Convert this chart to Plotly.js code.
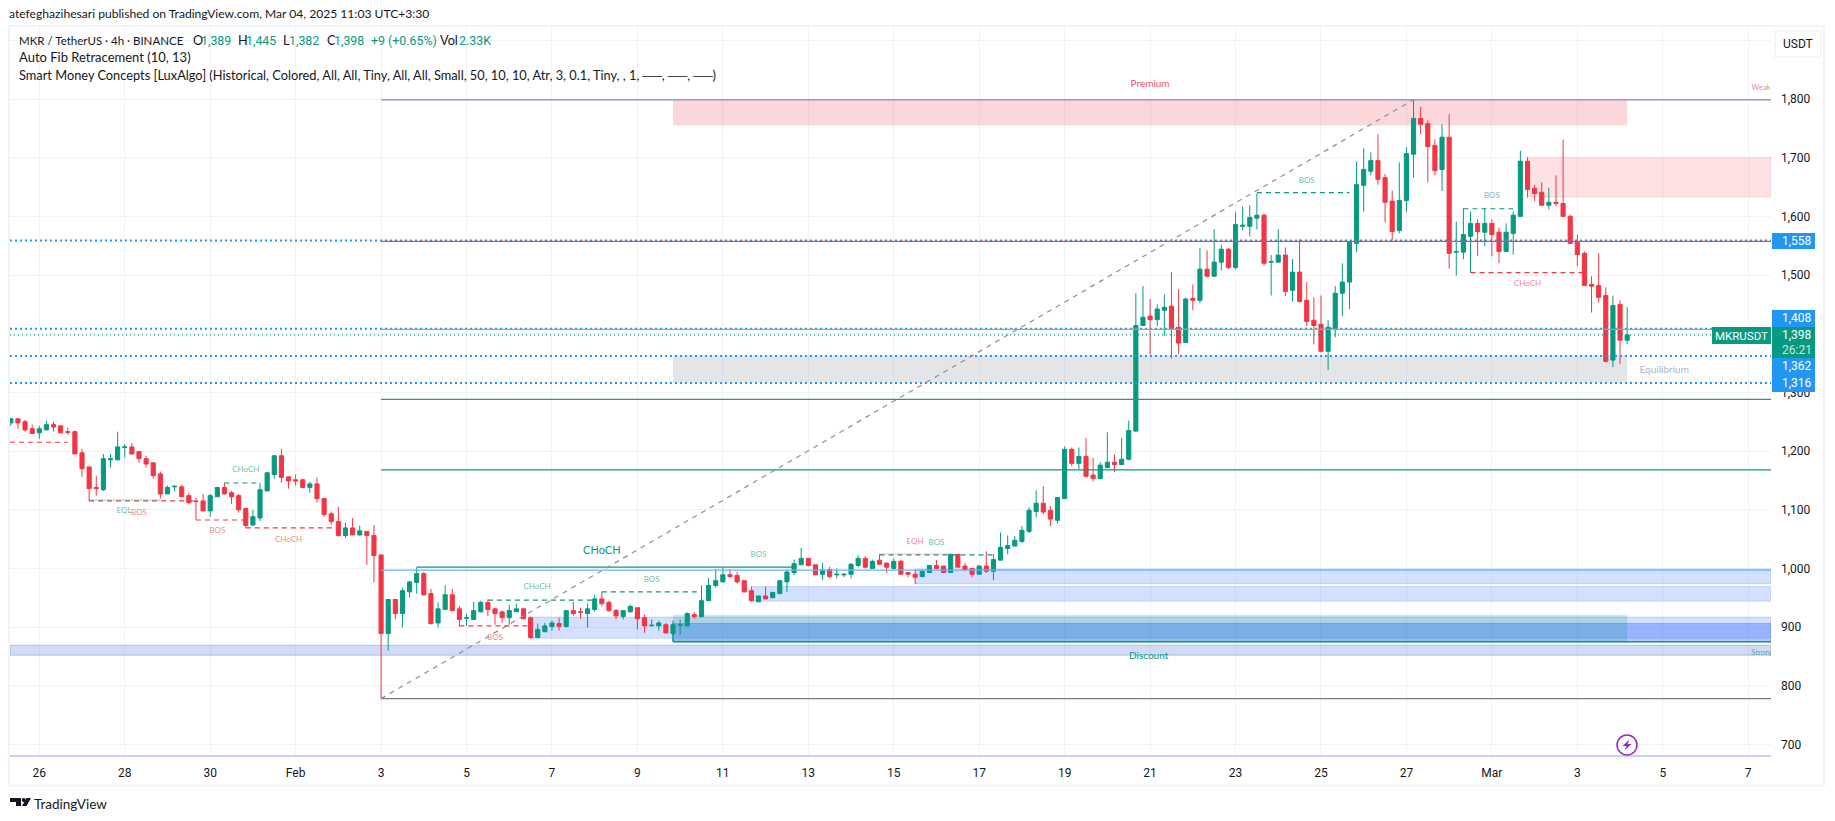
<!DOCTYPE html>
<html><head><meta charset="utf-8">
<script src="https://cdn.plot.ly/plotly-3.0.1.min.js"></script>
<style>html,body{margin:0;padding:0;background:#fff}#c{width:1835px;height:821px}</style></head>
<body><div id="c"></div>
<script>
// ---- candle values, one per 4h bar, starting 2025-01-25 08:00 UTC ----
const opens=[1248,1255,1250,1238,1231,1236,1245,1243,1233,1233,1197,1173,1138,1134,1185,1185,1206,1207,1199,1187,1180,1161,1127,1139,1139,1124,1115,1115,1098,1122,1138,1129,1124,1102,1074,1086,1132,1160,1192,1156,1151,1151,1138,1144,1119,1093,1080,1056,1069,1057,1063,1056,1023,889,947,923,960,976,991,957,907,930,
955,931,915,913,926,942,931,926,916,926,931,916,882,892,901,906,901,928,926,923,930,948,942,928,918,926,933,916,902,902,904,889,903,902,921,918,945,971,977,989,988,979,962,943,953,950,957,977,993,1006,1017,1006,
990,998,989,989,990,1005,1017,1000,1014,1009,1000,1012,993,990,986,993,1005,1004,993,1024,1004,1000,990,1004,995,1014,1034,1038,1046,1063,1097,1111,1099,1082,1119,1203,1179,1191,1159,1153,1172,1181,1177,1186,1234,
1414,1430,1424,1440,1447,1411,1385,1460,1457,1510,1498,1522,1544,1513,1583,1583,1597,1602,1522,1522,1534,1474,1505,1457,1423,1416,1370,1407,1469,1488,1554,1653,1677,1695,1666,1626,1576,1627,1706,1767,1758,1721,1680,1735,
1539,1539,1566,1588,1573,1588,1573,1540,1571,1600,1694,1648,1641,1619,1624,1622,1600,1556,1537,1484,1482,1465,1355,1450,1389];
const highs=[1257,1255,1253,1245,1243,1252,1250,1243,1240,1235,1204,1173,1158,1195,1195,1233,1212,1214,1199,1192,1180,1165,1141,1141,1143,1129,1120,1127,1127,1138,1146,1132,1127,1103,1100,1146,1163,1192,1204,1156,1160,1153,1148,1155,1120,1097,1105,1078,1086,1073,1063,1074,1023,948,947,967,979,1002,994,965,942,971,
965,936,923,943,945,947,933,928,938,940,933,918,906,907,911,916,928,943,933,940,955,960,945,931,928,938,933,921,913,911,907,911,913,925,925,971,984,999,1001,999,994,979,969,953,969,960,979,998,1015,1035,1018,1006,
1009,1003,1000,992,1009,1022,1021,1015,1024,1010,1017,1015,993,997,998,1005,1014,1004,1024,1024,1009,1000,1005,1029,1024,1061,1056,1055,1072,1104,1133,1140,1106,1121,1208,1206,1206,1222,1188,1181,1232,1194,1222,1252,1469,
1481,1459,1450,1467,1505,1476,1462,1484,1546,1542,1578,1552,1546,1607,1617,1619,1639,1605,1534,1578,1547,1527,1561,1488,1462,1465,1423,1481,1520,1556,1694,1716,1709,1740,1672,1644,1692,1718,1799,1787,1764,1731,1757,1774,
1591,1614,1608,1595,1614,1595,1581,1588,1608,1712,1701,1654,1658,1649,1670,1731,1603,1569,1540,1498,1537,1479,1465,1457,1445];
const lows=[1243,1238,1233,1230,1221,1236,1233,1231,1228,1195,1156,1115,1124,1132,1172,1184,1189,1195,1180,1172,1153,1119,1127,1131,1122,1109,1083,1098,1088,1122,1127,1110,1095,1069,1073,1081,1132,1153,1146,1136,1141,1138,1129,1112,1088,1074,1054,1052,1057,1056,1006,976,778,860,913,899,950,957,953,904,899,930,
928,901,902,913,925,919,904,907,904,926,913,880,882,892,894,894,899,919,914,899,926,935,926,913,913,925,896,890,902,894,889,887,887,902,914,916,945,967,977,984,974,959,943,943,948,950,957,960,988,1006,1003,989,
980,983,983,985,983,1002,1000,1000,1007,992,998,990,985,973,985,992,1000,992,993,1002,995,985,990,992,980,1014,1024,1038,1043,1060,1087,1092,1072,1077,1119,1174,1169,1155,1148,1152,1170,1164,1177,1184,1232,
1413,1364,1413,1396,1358,1365,1385,1440,1452,1496,1498,1508,1510,1510,1576,1566,1578,1516,1465,1522,1464,1455,1453,1413,1382,1368,1338,1394,1430,1442,1539,1608,1670,1654,1590,1559,1571,1608,1666,1740,1658,1670,1643,1511,
1499,1527,1504,1532,1549,1532,1520,1540,1535,1600,1632,1626,1619,1612,1617,1600,1554,1515,1481,1436,1453,1351,1343,1348,1382];
const closes=[1255,1248,1236,1230,1238,1245,1241,1231,1232,1195,1170,1136,1136,1187,1187,1207,1207,1195,1187,1178,1158,1127,1138,1140,1122,1112,1114,1098,1124,1138,1127,1122,1100,1073,1088,1134,1163,1192,1155,1149,1149,1138,1144,1119,1092,1080,1056,1069,1057,1064,1056,1022,889,947,923,962,977,991,955,906,931,955,
928,913,916,928,942,930,923,916,928,931,914,882,896,902,907,901,928,923,925,931,948,940,928,919,928,935,914,902,903,907,890,904,904,923,918,945,971,979,989,986,977,960,945,953,948,959,979,994,1008,1017,1005,989,
997,986,990,990,1007,1017,1002,1012,1007,1002,1012,990,990,985,995,1005,1000,993,1024,1002,998,990,1004,995,1015,1036,1039,1048,1065,1099,1111,1096,1084,1121,1203,1179,1191,1157,1153,1176,1181,1177,1186,1235,1414,
1428,1424,1442,1445,1409,1384,1459,1457,1510,1498,1522,1544,1513,1586,1585,1598,1602,1520,1523,1534,1472,1505,1455,1421,1414,1370,1411,1469,1488,1556,1654,1680,1695,1663,1624,1574,1627,1707,1767,1757,1719,1678,1735,1537,
1540,1569,1588,1574,1588,1569,1540,1573,1602,1694,1646,1639,1619,1624,1622,1600,1554,1535,1482,1481,1462,1353,1448,1389,1398];

// ---- tick labels ----
const yTicks=[700,800,900,1000,1100,1200,1300,1400,1500,1600,1700,1800,1900];
const yTickLabels=['700','800','900','1,000','1,100','1,200','1,300','1,400','1,500','1,600','1,700','1,800',''];
const xTickDates=['2025-01-26','2025-01-28','2025-01-30','2025-02-01','2025-02-03','2025-02-05','2025-02-07','2025-02-09','2025-02-11','2025-02-13','2025-02-15','2025-02-17','2025-02-19','2025-02-21','2025-02-23','2025-02-25','2025-02-27','2025-03-01','2025-03-03','2025-03-05','2025-03-07'];
const xTickLabels=['26','28','30','Feb','3','5','7','9','11','13','15','17','19','21','23','25','27','Mar','3','5','7'];

// ---- horizontal levels (prices) ----
const dottedLevels=[1558.7,1408.6,1362,1316];
const lastPrice=1398;
const fibStart=[53,778], fibEnd=[198,1799];

// ---- structure lines: [startBar, endBar, price] ----
const redStructure=[[0.885,9,1215],[12,27,1115],[27,34,1082.5],[34,47,1069],[64,74,902],[206,222,1504]];
const greenStructure=[[31,36,1145.5],[68,83,946],[84,98,960],[123,139,1023],[176,189,1640.5],[205,212,1613]];

// ---- small labels: bar position, price, text ----
const greenLabelBars=[34,74.9,91,106,131,183,209];
const greenLabelPrices=[1168,968,980,1022,1044,1661,1635];
const greenLabelText=['CHoCH','CHoCH','BOS','BOS','BOS','BOS','BOS'];
const redLabelBars=[19,30,40,69,128,214];
const redLabelPrices=[1095,1064,1048,881,1045.5,1485];
const redLabelText=['BOS','BOS','CHoCH','BOS','EQH','CHoCH'];

const GREEN='#089981', RED='#F23645', BLUE='#2196F3';
const firstBar=Date.UTC(2025,0,25,8), H4=4*3600*1000;
const bar=n=>new Date(firstBar+(n-1)*H4).toISOString();
const times=opens.map((_,i)=>bar(i+1));
const XL=bar(0.885), XR=bar(248.2);
const L=10,R=1771,T=26,B=757;
const px=x=>(x-L)/(R-L), py=y=>(B-y)/(B-T);

const shapes=[];
function box(b0,b1,p0,p1,fill,line){shapes.push({type:'rect',xref:'x',yref:'y',x0:b0,x1:b1,y0:p0,y1:p1,fillcolor:fill,line:{width:line?1:0,color:line||'rgba(0,0,0,0)'},layer:'between'});}
function hline(x0,x1,p,color,w,dash){shapes.push({type:'line',xref:'x',yref:'y',x0:x0,x1:x1,y0:p,y1:p,line:{color:color,width:w,dash:dash||'solid'},layer:'above'});}
function pxRect(x0,x1,y0,y1,fill,line,lw){shapes.push({type:'rect',xref:'paper',yref:'paper',x0:px(x0),x1:px(x1),y0:py(y0),y1:py(y1),fillcolor:fill,line:{width:line?(lw||1):0,color:line||'rgba(0,0,0,0)'},layer:'above'});}
const B53=bar(53),B94=bar(94),B228=bar(228);

// zones
box(XL,XR,852,869,'rgba(30,70,200,.2)','rgba(30,70,200,.25)');
box(bar(74),XR,881,917,'rgba(41,98,255,.2)','rgba(41,98,255,.2)');
box(bar(105),XR,944,969,'rgba(41,98,255,.2)','rgba(41,98,255,.2)');
box(bar(128),XR,974,999,'rgba(41,98,255,.2)','rgba(41,98,255,.2)');
box(B94,XR,875,906,'rgba(41,98,255,.35)','rgba(41,98,255,.35)');
box(B94,B228,875,921,'rgba(8,153,129,.2)');
box(B94,B228,1755,1799,'rgba(242,54,69,.2)');
box(bar(214),XR,1633,1700,'rgba(242,54,69,.15)','rgba(242,54,69,.15)');
box(B94,B228,1317,1363,'rgba(120,123,134,.2)');
box(XL,XR,678.6,682,'#c9d2f3');

// dotted levels under the solid ones
dottedLevels.forEach(p=>hline(XL,XR,p,BLUE,2,'2px,3px'));
hline(XL,XR,lastPrice,GREEN,1.2,'1px,3px');
// fib and indicator levels
hline(B53,XR,1799,'#8f9bc8',1.5);
hline(B53,XR,1557.3,'#e6474f',1.3);
hline(B53,XR,1407.5,'#8fb07c',1.3);
hline(B53,XR,1288,'#4c8a6a',1.3);
hline(B53,XR,1168,GREEN,1.3);
hline(B53,XR,997,'#64b5f6',1.3);
hline(B53,XR,778,'#787b86',1.3);
hline(B94,XR,875,GREEN,1.5);
shapes.push({type:'line',xref:'x',yref:'y',x0:B94,x1:B94,y0:875,y1:906,line:{color:GREEN,width:1.5},layer:'above'});
// solid CHoCH
hline(bar(58),bar(111),1002,GREEN,1.3);
// fib line
shapes.push({type:'line',xref:'x',yref:'y',x0:bar(fibStart[0]),y0:fibStart[1],x1:bar(fibEnd[0]),y1:fibEnd[1],line:{color:'#8c8f99',width:1.2,dash:'5px,5px'},layer:'above'});
// structure
redStructure.forEach(s=>hline(bar(s[0]),bar(s[1]),s[2],RED,1.2,'5px,4px'));
greenStructure.forEach(s=>hline(bar(s[0]),bar(s[1]),s[2],GREEN,1.2,'5px,4px'));
hline(bar(12),bar(22),1116.5,'rgba(8,153,129,.5)',1.2,'2px,1px');
hline(bar(123),bar(133),1024.5,'rgba(242,54,69,.45)',1.2,'2px,1px');

// frame (drawn outside the plot, on paper)
const FR='#f0f3fa';
shapes.push({type:'rect',xref:'paper',yref:'paper',x0:px(9),x1:px(1824),y0:py(26),y1:py(785.5),line:{color:FR,width:2},fillcolor:'rgba(0,0,0,0)',layer:'below'});
// usdt button
pxRect(1775,1821,31,57,'#ffffff','#f0f3fa',1.5);
// price tags
pxRect(1772,1815,233,249,BLUE);
pxRect(1772,1815,310,327,BLUE);
pxRect(1772,1815,327,358,GREEN);
pxRect(1712,1771,327,344,GREEN);
pxRect(1772,1815,358,374,BLUE);
pxRect(1772,1815,374,392,BLUE);
// lightning mark
shapes.push({type:'circle',xref:'paper',yref:'paper',x0:px(1617),x1:px(1637),y0:py(735),y1:py(755),line:{color:'#9c27b0',width:1.5},fillcolor:'#ffffff',layer:'above'});
const path=pts=>'M'+pts.map(p=>px(p[0])+','+py(p[1])).join('L')+'Z';
shapes.push({type:'path',xref:'paper',yref:'paper',path:path([[1629.5,739.5],[1622.5,746],[1626.5,746],[1624.5,750.5],[1631.5,744],[1627.5,744]]),fillcolor:'#9c27b0',line:{width:0},layer:'above'});
// TradingView logo
const logo=[[[10,798],[21,798],[21,806],[16,806],[16,802],[10,802]],[[26.5,798],[31,798],[26.5,806],[22,806]]];
logo.forEach(l=>shapes.push({type:'path',xref:'paper',yref:'paper',path:path(l),fillcolor:'#131722',line:{width:0},layer:'above'}));
shapes.push({type:'circle',xref:'paper',yref:'paper',x0:px(21.7),x1:px(25.7),y0:py(798),y1:py(802),fillcolor:'#131722',line:{width:0},layer:'above'});

const FONT='Lato, "Open Sans", sans-serif', NUM='Roboto, Lato, sans-serif', INK='#131722';
function ann(x,y,text,size,color,anchor,fam){return {xref:'paper',yref:'paper',x:px(x),y:py(y),text:text,showarrow:false,xanchor:anchor||'left',yanchor:'middle',align:anchor||'left',font:{family:fam||FONT,size:size,color:color||INK},borderpad:0,captureevents:false};}
const annotations=[
 ann(8,14,'atefeghazihesari published on TradingView.com, Mar 04, 2025 11:03 UTC+3:30',12.1),
 ann(17.5,40,'MKR / TetherUS · 4h · BINANCE',11.5),
 ann(192,40,'O',12.7), ann(200,40,'1,389',12.4,GREEN,'left',NUM),
 ann(237,40,'H',12.7), ann(245,40,'1,445',12.4,GREEN,'left',NUM),
 ann(282,40,'L',12.7), ann(288,40,'1,382',12.4,GREEN,'left',NUM),
 ann(326,40,'C',12.7), ann(333,40,'1,398',12.4,GREEN,'left',NUM),
 ann(370,40,'+9 (+0.65%)',12.4,GREEN,'left',NUM),
 ann(439,40,'Vol',12.7), ann(458,40,'2.33K',12.4,GREEN,'left',NUM),
 ann(17.5,57,'Auto Fib Retracement (10, 13)',13),
 ann(17.5,75,'Smart Money Concepts [LuxAlgo] (Historical, Colored, All, All, Tiny, All, All, Small, 50, 10, 10, Atr, 3, 0.1, Tiny, , 1, ──, ──, ──)',12.8),
 ann(1798,44,'USDT',12,INK,'center',NUM),
 ann(1781,241,'1,558',12,'#fff','left',NUM),
 ann(1781,318.5,'1,408',12,'#fff','left',NUM),
 ann(1781,335,'1,398',12,'#fff','left',NUM),
 ann(1781,349.5,'26:21',12,'rgba(255,255,255,.8)','left',NUM),
 ann(1781,366,'1,362',12,'#fff','left',NUM),
 ann(1781,383,'1,316',12,'#fff','left',NUM),
 ann(1741.5,335.5,'MKRUSDT',11.5,'#fff','center',NUM),
 ann(33,804,'TradingView',13.5,'#131722')
];

const traces=[{
 type:'candlestick',x:times,open:opens,high:highs,low:lows,close:closes,
 increasing:{line:{color:GREEN,width:1},fillcolor:GREEN},
 decreasing:{line:{color:RED,width:1},fillcolor:RED},
 whiskerwidth:0,hoverinfo:'skip',showlegend:false
},{
 type:'scatter',mode:'text',x:greenLabelBars.map(bar),y:greenLabelPrices,text:greenLabelText,
 textfont:{family:FONT,size:8,color:'rgba(8,153,129,.65)'},hoverinfo:'skip',showlegend:false
},{
 type:'scatter',mode:'text',x:redLabelBars.map(bar),y:redLabelPrices,text:redLabelText,
 textfont:{family:FONT,size:8,color:'rgba(242,54,69,.65)'},hoverinfo:'skip',showlegend:false
},{
 type:'scatter',mode:'text',x:[bar(16.9)],y:[1097],text:['EQL'],
 textfont:{family:FONT,size:8,color:'rgba(8,153,129,.65)'},hoverinfo:'skip',showlegend:false
},{
 type:'scatter',mode:'text',x:[bar(84)],y:[1029],text:['CHoCH'],
 textfont:{family:FONT,size:11,color:GREEN},hoverinfo:'skip',showlegend:false
},{
 type:'scatter',mode:'text',x:[bar(161),bar(246.8)],y:[1825,1819],text:['Premium','Weak'],
 textfont:{family:FONT,size:[10,7.5],color:['rgba(242,54,69,.9)','rgba(242,54,69,.65)']},hoverinfo:'skip',showlegend:false
},{
 type:'scatter',mode:'text',x:[bar(160.8),bar(247)],y:[849,856],text:['Discount','Strong'],
 textfont:{family:FONT,size:[10,8],color:[GREEN,'rgba(8,153,129,.7)']},hoverinfo:'skip',showlegend:false
},{
 type:'scatter',mode:'text',x:[bar(233.2)],y:[1337],text:['Equilibrium'],
 textfont:{family:FONT,size:10,color:'#b2b5be'},hoverinfo:'skip',showlegend:false
}];

const layout={
 width:1835,height:821,paper_bgcolor:'#fff',plot_bgcolor:'#fff',showlegend:false,
 margin:{l:L,r:1835-R,t:T,b:821-B,pad:0},
 boxgap:0,boxgroupgap:0.42,
 font:{family:FONT,color:INK,size:12},
 xaxis:{type:'date',range:[XL,XR],tickmode:'array',tickvals:xTickDates,ticktext:xTickLabels,
  showgrid:true,gridcolor:'#f0f3fa',gridwidth:1,zeroline:false,showline:false,ticks:'',
  ticklabelstandoff:7,tickfont:{family:NUM,size:12,color:INK},rangeslider:{visible:false},fixedrange:true},
 yaxis:{side:'right',range:[678.5,1924.5],tickmode:'array',tickvals:yTicks,ticktext:yTickLabels,
  showgrid:true,gridcolor:'#f0f3fa',gridwidth:1,zeroline:false,showline:false,ticks:'',
  ticklabelstandoff:9,tickfont:{family:NUM,size:12,color:INK},fixedrange:true},
 shapes:shapes,annotations:annotations
};
Plotly.newPlot('c',traces,layout,{displayModeBar:false,staticPlot:true});
</script></body></html>
